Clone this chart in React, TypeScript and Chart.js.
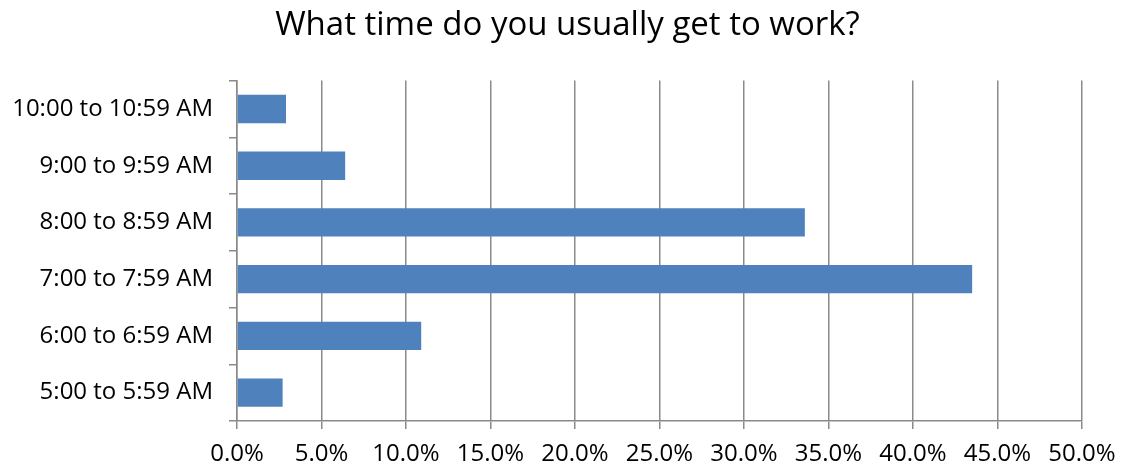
import React, { useEffect, useRef } from "react";
import { Chart, registerables } from "chart.js";

Chart.register(...registerables);

const categories = [
  "5:00 to 5:59 AM",
  "6:00 to 6:59 AM",
  "7:00 to 7:59 AM",
  "8:00 to 8:59 AM",
  "9:00 to 9:59 AM",
  "10:00 to 10:59 AM",
];
const values = [2.7, 10.9, 43.5, 33.6, 6.4, 2.9];
const chartTitle = "What time do you usually get to work?";
const xMin = 0;
const xMax = 50;
const xStep = 5;

const FONT = "'Open Sans', 'Noto Sans', sans-serif";
const GRID = "#8a8a8a";

export default function App() {
  const ref = useRef<HTMLCanvasElement | null>(null);
  useEffect(() => {
    if (!ref.current) return;
    const chart = new Chart(ref.current, {
      type: "bar",
      data: {
        labels: categories,
        datasets: [
          {
            data: values,
            backgroundColor: "#4F81BD",
            borderWidth: 0,
            barPercentage: 0.5,
            categoryPercentage: 1.0,
          },
        ],
      },
      options: {
        indexAxis: "y",
        animation: false,
        responsive: false,
        maintainAspectRatio: false,
        layout: { padding: { left: 13, right: 0, top: 0, bottom: 0 } },
        plugins: {
          legend: { display: false },
          tooltip: { enabled: false },
          title: {
            display: true,
            text: chartTitle,
            color: "#000",
            font: { family: FONT, size: 33, weight: "normal", lineHeight: 1.2 },
            padding: { top: 6, bottom: 35 },
          },
        },
        scales: {
          y: {
            reverse: true,
            afterFit: (s: any) => {
              s.width = 224;
              s.paddingTop = 0;
              s.paddingBottom = 0;
            },
            grid: {
              display: true,
              drawOnChartArea: false,
              drawTicks: true,
              tickLength: 8,
              color: GRID,
              lineWidth: 1.5,
              offset: true,
            },
            border: { display: true, color: GRID, width: 1.5 },
            ticks: {
              color: "#000",
              padding: 16,
              font: { family: FONT, size: 24 },
            },
          },
          x: {
            min: xMin,
            max: xMax,
            afterFit: (s: any) => {
              s.height = 46;
              s.paddingRight = 40;
              s.paddingLeft = 0;
            },
            grid: {
              display: true,
              drawOnChartArea: true,
              drawTicks: true,
              tickLength: 8,
              color: GRID,
              lineWidth: 1.5,
            },
            border: { display: true, color: GRID, width: 1.5 },
            ticks: {
              stepSize: xStep,
              color: "#000",
              padding: 13,
              maxRotation: 0,
              font: { family: FONT, size: 24, lineHeight: 1.0 },
              callback: (v: any) => Number(v).toFixed(1) + "%",
            },
          },
        },
      },
    });
    return () => chart.destroy();
  }, []);
  return (
    <div style={{ position: "fixed", left: 0, top: 0, width: 1122, height: 467, background: "#fff" }}>
      <canvas ref={ref} width={1122} height={467} style={{ width: 1122, height: 467 }} />
    </div>
  );
}
